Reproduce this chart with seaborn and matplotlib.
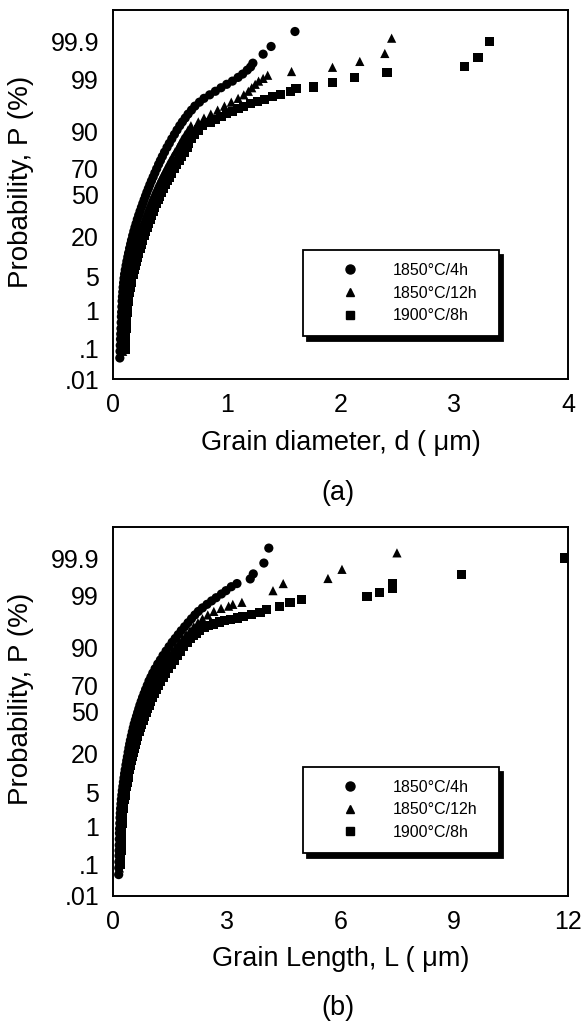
import numpy as np
import pandas as pd
import seaborn as sns
import matplotlib.pyplot as plt
from matplotlib.lines import Line2D
from statistics import NormalDist

SERIES = ["1850°C/4h", "1850°C/12h", "1900°C/8h"]
MARKERS = {"1850°C/4h": "o", "1850°C/12h": "^", "1900°C/8h": "s"}

# probability axis
P_TICKS = [0.01, 0.1, 1, 5, 10, 20, 30, 50, 70, 80, 90, 95, 99, 99.9]
P_LABELS = [".01", ".1", "1", "5", "", "20", "", "50", "70", "", "90", "", "99", "99.9"]

# cumulative probability levels (%) read along the dense part of the curves
P_BAND = [0.12, 0.18, 0.25, 0.35, 0.5, 0.7, 0.9, 1.2, 1.6, 2.0, 2.5, 3.1, 3.8, 4.6, 5.5,
          6.5, 7.7, 9, 10.5, 12, 14, 16, 18, 20.5, 23, 25.5, 28, 31, 34, 37, 40, 43, 46,
          49, 52, 55, 58, 61, 64, 67, 70, 73, 75.5, 78, 80.5, 83, 85, 87, 88.8, 90.4, 91.8]

# ---- (a) grain diameter d (um) ----
a_4h_p = [0.05, 0.08] + P_BAND + [92.9, 93.9, 94.8, 95.6, 96.3, 96.9, 97.4, 97.8, 98.15,
                                  98.45, 98.7, 98.9, 99.1, 99.25, 99.4, 99.5, 99.6, 99.77,
                                  99.86, 99.95]
a_4h_d = [0.060, 0.062,
          0.064, 0.066, 0.068, 0.070, 0.072, 0.074, 0.076, 0.078, 0.080, 0.083, 0.086, 0.089,
          0.093, 0.097, 0.102, 0.108, 0.115, 0.122, 0.130, 0.137, 0.146, 0.155, 0.163, 0.173,
          0.183, 0.193, 0.203, 0.214, 0.226, 0.238, 0.250, 0.262, 0.274, 0.286, 0.298, 0.311,
          0.324, 0.338, 0.353, 0.368, 0.384, 0.401, 0.417, 0.434, 0.453, 0.475, 0.495, 0.517,
          0.540, 0.563, 0.587,
          0.61, 0.635, 0.66, 0.69, 0.72, 0.76, 0.80, 0.85, 0.90, 0.95, 1.00, 1.05, 1.10, 1.14,
          1.18, 1.21, 1.23, 1.32, 1.39, 1.60]

a_12h_p = [0.08] + P_BAND + [92.9, 93.9, 94.8, 95.6, 96.3, 96.9, 97.4, 97.8, 98.15, 98.45,
                             98.7, 98.9, 99.05, 99.2, 99.35, 99.49, 99.64, 99.78, 99.92]
a_12h_d = [0.085,
           0.088, 0.090, 0.092, 0.094, 0.096, 0.099, 0.102, 0.105, 0.108, 0.112, 0.116, 0.121,
           0.127, 0.133, 0.140, 0.148, 0.156, 0.165, 0.174, 0.183, 0.194, 0.205, 0.215, 0.227,
           0.238, 0.249, 0.260, 0.273, 0.286, 0.299, 0.312, 0.325, 0.338, 0.352, 0.366, 0.380,
           0.395, 0.411, 0.428, 0.446, 0.465, 0.485, 0.503, 0.523, 0.545, 0.570, 0.590, 0.610,
           0.635, 0.660, 0.685,
           0.75, 0.80, 0.86, 0.92, 0.98, 1.04, 1.10, 1.15, 1.19, 1.22, 1.25, 1.28, 1.32, 1.36,
           1.57, 1.93, 2.17, 2.39, 2.45]

a_8h_p = [0.09] + P_BAND + [92.8, 93.6, 94.3, 94.9, 95.4, 95.9, 96.3, 96.7, 97.0, 97.3,
                            97.6, 97.8, 98.1, 98.4, 98.5, 98.8, 99.1, 99.32, 99.52, 99.72,
                            99.9]
a_8h_d = [0.105,
          0.107, 0.110, 0.112, 0.115, 0.118, 0.121, 0.124, 0.128, 0.133, 0.138, 0.144, 0.150,
          0.158, 0.166, 0.175, 0.184, 0.194, 0.204, 0.215, 0.226, 0.239, 0.251, 0.262, 0.275,
          0.287, 0.299, 0.311, 0.325, 0.339, 0.353, 0.367, 0.381, 0.396, 0.411, 0.427, 0.443,
          0.460, 0.478, 0.497, 0.517, 0.538, 0.561, 0.582, 0.605, 0.630, 0.650, 0.665, 0.690,
          0.720, 0.750, 0.790,
          0.86, 0.90, 0.95, 1.00, 1.05, 1.10, 1.15, 1.21, 1.27, 1.33, 1.40, 1.47, 1.56, 1.61,
          1.76, 1.93, 2.12, 2.41, 3.09, 3.21, 3.31]

# ---- (b) grain length L (um) ----
b_4h_p = [0.05, 0.08] + P_BAND + [92.9, 93.9, 94.8, 95.6, 96.3, 96.9, 97.4, 97.8, 98.15,
                                  98.45, 98.7, 98.9, 99.1, 99.25, 99.4, 99.5, 99.62, 99.72,
                                  99.86, 99.95]
b_4h_L = [0.150, 0.152,
          0.155, 0.158, 0.160, 0.163, 0.166, 0.170, 0.174, 0.180, 0.186, 0.193, 0.200, 0.210,
          0.220, 0.233, 0.246, 0.260, 0.275, 0.290, 0.306, 0.322, 0.342, 0.362, 0.380, 0.400,
          0.420, 0.440, 0.460, 0.485, 0.510, 0.535, 0.560, 0.590, 0.620, 0.650, 0.680, 0.710,
          0.745, 0.780, 0.820, 0.860, 0.905, 0.950, 1.000, 1.050, 1.110, 1.180, 1.250, 1.320,
          1.400, 1.480, 1.560,
          1.64, 1.72, 1.80, 1.89, 1.98, 2.07, 2.16, 2.25, 2.36, 2.48, 2.60, 2.72, 2.86, 2.98,
          3.12, 3.27, 3.62, 3.70, 3.98, 4.11]

b_12h_p = [0.08] + P_BAND + [92.9, 93.9, 94.8, 95.6, 96.3, 96.9, 97.4, 97.8, 98.1, 98.3,
                             98.45, 98.6, 99.25, 99.5, 99.63, 99.79, 99.93]
b_12h_L = [0.170,
           0.172, 0.175, 0.178, 0.181, 0.185, 0.190, 0.195, 0.202, 0.210, 0.218, 0.228, 0.240,
           0.253, 0.267, 0.282, 0.298, 0.315, 0.333, 0.352, 0.371, 0.394, 0.416, 0.437, 0.460,
           0.483, 0.506, 0.530, 0.558, 0.587, 0.616, 0.646, 0.677, 0.710, 0.743, 0.778, 0.814,
           0.852, 0.892, 0.935, 0.980, 1.030, 1.080, 1.130, 1.190, 1.250, 1.330, 1.400, 1.480,
           1.570, 1.660, 1.750,
           1.84, 1.93, 2.03, 2.13, 2.24, 2.36, 2.50, 2.66, 2.85, 3.05, 3.16, 3.40, 4.22, 4.49,
           5.67, 6.04, 7.49]

b_8h_p = [0.1] + P_BAND + [92.8, 93.6, 94.3, 94.9, 95.4, 95.8, 96.1, 96.4, 96.6, 96.8, 97.0,
                           97.2, 97.5, 97.7, 98.0, 98.3, 98.6, 98.8, 98.96, 99.16, 99.35,
                           99.5, 99.71, 99.9]
b_8h_L = [0.200,
          0.202, 0.206, 0.210, 0.214, 0.219, 0.225, 0.231, 0.240, 0.250, 0.260, 0.272, 0.286,
          0.300, 0.316, 0.333, 0.352, 0.372, 0.393, 0.415, 0.437, 0.463, 0.489, 0.513, 0.540,
          0.567, 0.594, 0.622, 0.655, 0.689, 0.723, 0.758, 0.794, 0.832, 0.870, 0.910, 0.952,
          0.995, 1.040, 1.090, 1.140, 1.200, 1.260, 1.320, 1.380, 1.450, 1.530, 1.610, 1.690,
          1.780, 1.870, 1.960,
          2.04, 2.12, 2.20, 2.29, 2.40, 2.52, 2.65, 2.80, 2.95, 3.10, 3.28, 3.43, 3.65, 3.88,
          4.05, 4.40, 4.67, 4.98, 6.70, 7.02, 7.38, 7.38, 9.20, 11.92]

_nd = NormalDist()
_ppf = np.vectorize(lambda p: _nd.inv_cdf(min(max(p / 100.0, 1e-7), 1 - 1e-7)), otypes=[float])
_cdf = np.vectorize(lambda z: 100.0 * _nd.cdf(z), otypes=[float])


def make_frame(sizes, probs):
    parts = []
    for name, x, p in zip(SERIES, sizes, probs):
        parts.append(pd.DataFrame({"size": x, "prob": p, "series": name}))
    return pd.concat(parts, ignore_index=True)


def draw_panel(ax, df, xlabel, xticks):
    sns.scatterplot(data=df, x="size", y="prob", hue="series", style="series",
                    hue_order=SERIES, style_order=SERIES, markers=MARKERS,
                    palette=["black"] * 3, s=44, linewidth=0, legend=False, ax=ax)
    ax.set_yscale("function", functions=(_ppf, _cdf))
    ax.set_ylim(0.01, 99.99)
    ax.set_yticks(P_TICKS)
    ax.set_yticklabels(P_LABELS)
    ax.minorticks_off()
    ax.set_xlim(xticks[0], xticks[-1])
    ax.set_xticks(xticks)
    ax.set_xticklabels([str(t) for t in xticks])
    ax.tick_params(direction="in", length=5, width=1.3, labelsize=18, colors="black")
    ax.tick_params(axis="x", pad=10)
    ax.tick_params(axis="y", pad=10)
    for sp in ax.spines.values():
        sp.set_visible(True)
        sp.set_color("black")
        sp.set_linewidth(1.4)
    ax.set_xlabel(xlabel, fontsize=19.5, labelpad=9)
    ax.set_ylabel("Probability, P (%)", fontsize=20)
    ax.yaxis.set_label_coords(-0.174, 0.535)

    handles = [Line2D([], [], linestyle="none", marker=MARKERS[s], color="black",
                      markersize=6.5 if s.endswith("4h") else 6) for s in SERIES]
    leg = ax.legend(handles, SERIES, loc="upper left",
                    bbox_to_anchor=(0.4176, 0.0, 0.431, 0.3496), mode="expand",
                    borderaxespad=0, frameon=True, fancybox=False, framealpha=1,
                    edgecolor="black", fontsize=11.5, handlelength=4.3,
                    handletextpad=0.55, borderpad=0.8, labelspacing=0.48,
                    shadow={"ox": 3, "oy": -3.5, "color": "black", "alpha": 1})
    leg.get_frame().set_linewidth(1.3)


sns.set_style("white")
plt.rcParams["font.family"] = ["Liberation Sans", "DejaVu Sans"]
plt.rcParams["text.color"] = "black"
plt.rcParams["axes.labelcolor"] = "black"

fig = plt.figure(figsize=(5.87, 10.25), dpi=100)
ax_a = fig.add_axes([0.1925, 0.630, 0.775, 0.360])
ax_b = fig.add_axes([0.1925, 0.126, 0.775, 0.360])

df_a = make_frame([a_4h_d, a_12h_d, a_8h_d], [a_4h_p, a_12h_p, a_8h_p])
df_b = make_frame([b_4h_L, b_12h_L, b_8h_L], [b_4h_p, b_12h_p, b_8h_p])

draw_panel(ax_a, df_a, "Grain diameter, d ( μm)", [0, 1, 2, 3, 4])
draw_panel(ax_b, df_b, "Grain Length, L ( μm)", [0, 3, 6, 9, 12])

fig.text(0.575, 1 - 493 / 1025, "(a)", ha="center", va="center", fontsize=19.5)
fig.text(0.575, 1 - 1008 / 1025, "(b)", ha="center", va="center", fontsize=19.5)

fig.savefig("out.png", dpi=100)
